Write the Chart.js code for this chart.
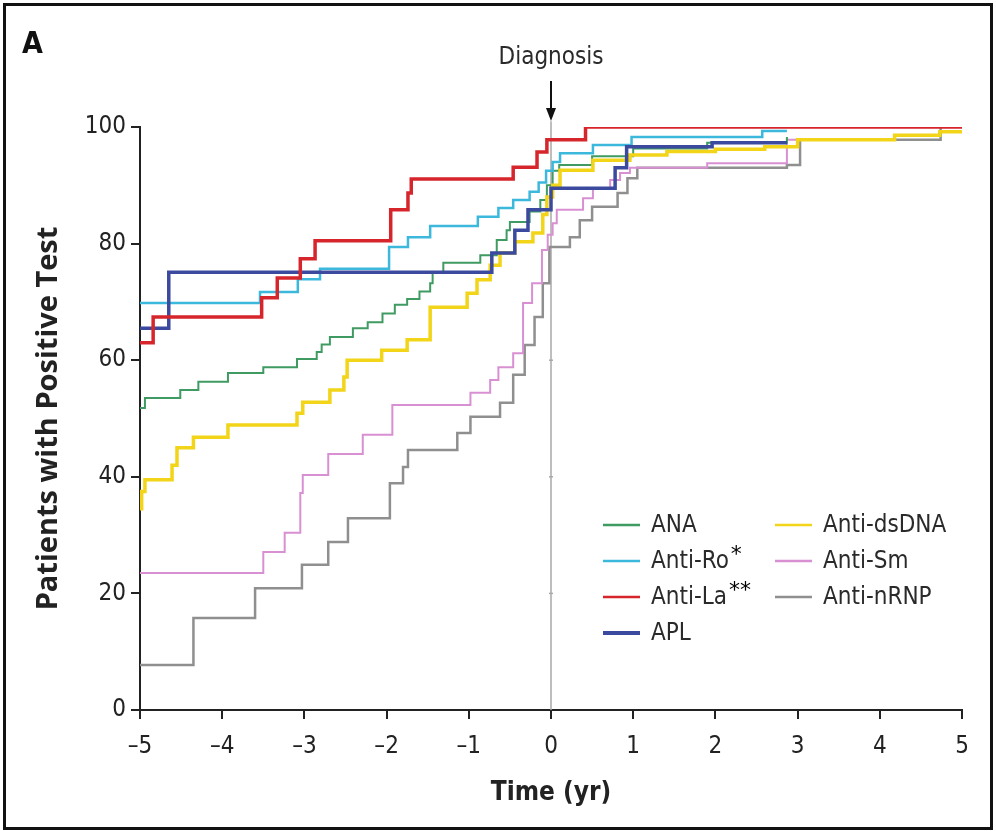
<!doctype html>
<html>

<head>
  <title>Autoantibodies before diagnosis</title>
  <script src="https://cdn.jsdelivr.net/npm/chart.js@4/dist/chart.umd.min.js"></script>
  <style>
  body { margin: 0; background: #fff; }
  #container { width: 996px; height: 831px; }
  </style>
</head>

<body>
  <div id="container">
    <canvas id="canvas"></canvas>
  </div>
  <script>
  // time (yr) relative to diagnosis where each step starts, and % positive from then on
  var anaTimes = [-5, -4.94, -4.51, -4.29, -3.93, -3.5, -3.09, -2.85, -2.79, -2.69, -2.41, -2.23, -2.05, -1.9, -1.75, -1.6, -1.47, -1.44, -1.31, -0.86, -0.66, -0.54, -0.5, -0.26, -0.13, -0.05, 0.02, 0.1, 0.5, 1.0, 1.9, 2.87];
  var anaValues = [51.8, 53.5, 54.9, 56.3, 57.8, 58.8, 60.2, 61.4, 62.7, 64, 65.5, 66.5, 68, 69.5, 70.5, 71.8, 73.2, 75.1, 76.7, 78, 80.6, 82.3, 83.7, 85.5, 87.5, 90, 92.5, 93.5, 95, 96.3, 97.3, 98.3];

  var roTimes = [-5, -3.54, -3.08, -2.81, -1.97, -1.74, -1.47, -0.89, -0.64, -0.46, -0.26, -0.15, -0.06, 0.02, 0.11, 0.51, 0.98, 2.57, 2.87];
  var roValues = [69.8, 71.7, 73.9, 75.7, 79.4, 81.1, 83, 84.6, 86.1, 87.5, 88.9, 90.5, 92.5, 94, 95.5, 96.9, 98.3, 99.3, 99.3];

  var laTimes = [-5, -4.84, -3.52, -3.33, -3.05, -2.87, -1.95, -1.74, -1.7, -0.46, -0.17, -0.05, 0.42, 5];
  var laValues = [63, 67.4, 70.7, 74.1, 77.4, 80.5, 85.8, 88.7, 91.1, 93.1, 95.7, 97.8, 100, 100];

  var aplTimes = [-5, -4.65, -0.72, -0.44, -0.28, 0, 0.78, 0.92, 1.96, 2.87];
  var aplValues = [65.5, 75.1, 78.4, 82.3, 85.8, 89.5, 93, 96.6, 97.3, 97.3];

  var dsdnaTimes = [-5, -4.98, -4.94, -4.61, -4.55, -4.35, -3.93, -3.09, -3.02, -2.69, -2.52, -2.48, -2.06, -1.75, -1.47, -1.02, -0.9, -0.74, -0.62, -0.44, -0.22, -0.1, -0.05, 0.02, 0.11, 0.51, 0.96, 1.41, 2.0, 2.6, 3.0, 4.18, 4.73, 5];
  var dsdnaValues = [34.5, 37.5, 39.5, 42, 45, 46.8, 48.9, 50.9, 52.8, 54.9, 57.1, 60, 61.7, 63.5, 69.1, 71.5, 73.8, 76.3, 78.4, 80.3, 81.8, 85, 88, 90, 92.6, 94.3, 95.2, 95.8, 96.2, 96.6, 97.8, 98.6, 99.2, 99.2];

  var smTimes = [-5, -3.5, -3.24, -3.05, -3.02, -2.71, -2.29, -1.93, -0.98, -0.74, -0.64, -0.46, -0.34, -0.23, -0.11, -0.04, 0.02, 0.07, 0.39, 0.51, 0.72, 0.84, 0.96, 1.9, 2.87, 3.03];
  var smValues = [23.5, 27.1, 30.4, 37.2, 40.3, 43.9, 47.2, 52.3, 54.4, 56.6, 58.8, 61.2, 69.8, 73.2, 78.9, 81.5, 83.5, 85.8, 87.8, 89.5, 90.9, 92.1, 93, 93.8, 97.8, 97.8];

  var rnpTimes = [-5, -4.35, -3.6, -3.03, -2.71, -2.47, -1.96, -1.8, -1.74, -1.14, -0.98, -0.62, -0.46, -0.32, -0.2, -0.1, -0.02, 0.23, 0.35, 0.5, 0.81, 0.93, 1.05, 2.87, 3.03, 4.73, 4.74];
  var rnpValues = [7.7, 15.8, 20.9, 24.9, 28.8, 32.9, 38.9, 41.7, 44.6, 47.5, 50.3, 52.7, 57.5, 62.6, 67.4, 73.2, 79.4, 81.1, 84, 86.3, 88.7, 91.2, 93, 93.5, 97.8, 97.8, 100];

  var seriesLabels = ['ANA', 'Anti-Ro', 'Anti-La', 'APL', 'Anti-dsDNA', 'Anti-Sm', 'Anti-nRNP'];
  var seriesMarks = ['', '*', '**', '', '', '', ''];

  var xMin = -5, xMax = 5, xStep = 1;
  var yMin = 0, yMax = 100, yStep = 20;

  var colors = {
    ana: '#3f9b62',
    ro: '#3cb8dd',
    la: '#d6262c',
    apl: '#3b4a9e',
    dsdna: '#f2d419',
    sm: '#d890d3',
    rnp: '#8f8f8f'
  };

  function steps(times, values) {
    return times.map(function(t, i) { return {x: t, y: values[i]}; });
  }

  function series(label, times, values, color, width, order) {
    return {
      label: label,
      data: steps(times, values),
      borderColor: color,
      backgroundColor: color,
      borderWidth: width,
      stepped: true,
      pointRadius: 0,
      fill: false,
      order: order
    };
  }

  var narrow = "'Liberation Sans Narrow', 'DejaVu Sans Condensed', sans-serif";

  var decorations = {
    id: 'decorations',
    beforeDatasetsDraw: function(chart) {
      var ctx = chart.ctx, xs = chart.scales.x, ys = chart.scales.y;
      var px = xs.getPixelForValue(0);
      ctx.save();
      ctx.strokeStyle = '#a9a9a9';
      ctx.lineWidth = 1.5;
      ctx.beginPath();
      ctx.moveTo(px, ys.getPixelForValue(101));
      ctx.lineTo(px, ys.bottom);
      ctx.stroke();
      [20, 40, 60].forEach(function(v) {
        var py = ys.getPixelForValue(v);
        ctx.beginPath();
        ctx.moveTo(px - 2, py);
        ctx.lineTo(px + 2, py);
        ctx.stroke();
      });
      ctx.restore();
    },
    afterDraw: function(chart) {
      var ctx = chart.ctx, xs = chart.scales.x, area = chart.chartArea;
      var px = xs.getPixelForValue(0);
      ctx.save();

      // diagnosis arrow
      ctx.strokeStyle = '#111';
      ctx.fillStyle = '#111';
      ctx.lineWidth = 2;
      ctx.beginPath();
      ctx.moveTo(px, area.top - 46);
      ctx.lineTo(px, area.top - 16);
      ctx.stroke();
      ctx.beginPath();
      ctx.moveTo(px - 5, area.top - 19);
      ctx.lineTo(px + 5, area.top - 19);
      ctx.lineTo(px, area.top - 6);
      ctx.closePath();
      ctx.fill();
      ctx.font = '24px ' + narrow;
      ctx.textAlign = 'center';
      ctx.textBaseline = 'middle';
      ctx.fillStyle = '#2a2a2a';
      ctx.fillText('Diagnosis', px, area.top - 69);

      // panel letter
      ctx.font = 'bold 30px ' + narrow;
      ctx.textAlign = 'left';
      ctx.fillStyle = '#111';
      ctx.fillText('A', 22, 45);

      // legend, two columns
      var colX = [area.left + 463, area.left + 635];
      var rowY = [area.top + 398, area.top + 434, area.top + 470, area.top + 506];
      var ds = chart.data.datasets;
      var legendOrder = [0, 1, 2, 3, 4, 5, 6];
      legendOrder.forEach(function(idx, k) {
        var col = k < 4 ? 0 : 1;
        var row = k < 4 ? k : k - 4;
        var lx = colX[col], ly = rowY[row];
        ctx.strokeStyle = ds[idx].borderColor;
        ctx.lineWidth = idx === 3 ? 4 : 2.5;
        ctx.beginPath();
        ctx.moveTo(lx, ly);
        ctx.lineTo(lx + 37, ly);
        ctx.stroke();
        ctx.font = '24px ' + narrow;
        ctx.fillStyle = '#2a2a2a';
        ctx.textAlign = 'left';
        ctx.textBaseline = 'middle';
        ctx.fillText(seriesLabels[idx], lx + 48, ly + 1);
        if (seriesMarks[idx]) {
          var w = ctx.measureText(seriesLabels[idx]).width;
          ctx.font = '22px DejaVu Sans, sans-serif';
          ctx.fillStyle = '#000';
          ctx.fillText(seriesMarks[idx], lx + 50 + w, ly - 6);
        }
      });

      // frame round the panel
      ctx.strokeStyle = '#111';
      ctx.lineWidth = 3;
      ctx.strokeRect(4.5, 4.5, chart.width - 9, chart.height - 7);
      ctx.restore();
    }
  };

  window.onload = function() {
    var ctx = document.getElementById('canvas').getContext('2d');
    window.myChart = new Chart(ctx, {
      type: 'line',
      data: {
        datasets: [
          series(seriesLabels[0], anaTimes, anaValues, colors.ana, 2, 4),
          series(seriesLabels[1], roTimes, roValues, colors.ro, 2.5, 3),
          series(seriesLabels[2], laTimes, laValues, colors.la, 3.5, 0),
          series(seriesLabels[3], aplTimes, aplValues, colors.apl, 3.5, 1),
          series(seriesLabels[4], dsdnaTimes, dsdnaValues, colors.dsdna, 3.5, 2),
          series(seriesLabels[5], smTimes, smValues, colors.sm, 2, 5),
          series(seriesLabels[6], rnpTimes, rnpValues, colors.rnp, 2.5, 6)
        ]
      },
      options: {
        responsive: true,
        maintainAspectRatio: false,
        animation: false,
        layout: {
          padding: {top: 127, right: 34, left: 0, bottom: 0}
        },
        plugins: {
          legend: {display: false},
          tooltip: {enabled: false}
        },
        scales: {
          x: {
            type: 'linear',
            min: xMin,
            max: xMax,
            afterFit: function(scale) { scale.height = 121; },
            ticks: {
              stepSize: xStep,
              color: '#222',
              padding: 13,
              font: {family: narrow, size: 24},
              callback: function(v) { return String(v).replace('-', '\u2013'); }
            },
            grid: {
              drawOnChartArea: false,
              tickLength: 9,
              color: '#222',
              lineWidth: 2
            },
            border: {color: '#222', width: 2},
            title: {
              display: true,
              text: 'Time (yr)',
              color: '#222',
              font: {family: narrow, size: 26, weight: 'bold'},
              padding: {top: 0, bottom: 22}
            }
          },
          y: {
            min: yMin,
            max: yMax,
            afterFit: function(scale) { scale.width = 140; },
            ticks: {
              stepSize: yStep,
              color: '#222',
              padding: 5,
              font: {family: narrow, size: 24}
            },
            grid: {
              drawOnChartArea: false,
              tickLength: 9,
              color: '#222',
              lineWidth: 2
            },
            border: {color: '#222', width: 2},
            title: {
              display: true,
              text: 'Patients with Positive Test',
              color: '#222',
              font: {family: "'Open Sans', sans-serif", size: 29, weight: 'bold'},
              padding: {top: 31, bottom: 0}
            }
          }
        }
      },
      plugins: [decorations]
    });
  };
  </script>
</body>

</html>
